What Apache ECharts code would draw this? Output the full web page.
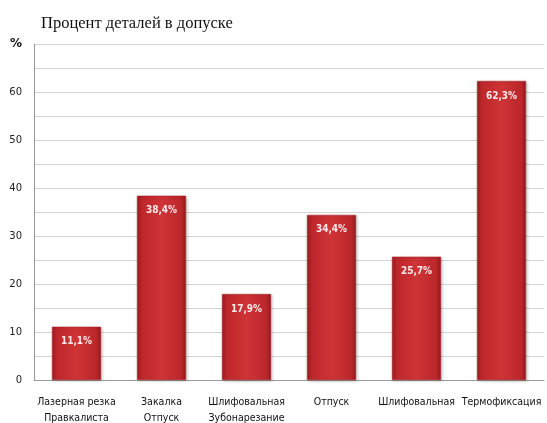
<!DOCTYPE html>
<html><head><meta charset="utf-8">
<script src="https://cdn.jsdelivr.net/npm/echarts@6/dist/echarts.min.js"></script>
<style>html,body{margin:0;padding:0;background:#fff}#c{width:547px;height:423px}</style>
</head><body><div id="c"></div>
<script>
const categories = ['Лазерная резка\nПравкалиста', 'Закалка\nОтпуск', 'Шлифовальная\nЗубонарезание', 'Отпуск', 'Шлифовальная', 'Термофиксация'];
const values = [11.1, 38.4, 17.9, 34.4, 25.7, 62.3];
const yTickLabels = ['0', '10', '20', '30', '40', '50', '60'];
const unitLabel = '%';
const chartTitle = 'Процент деталей в допуске';

const chart = echarts.init(document.getElementById('c'));
chart.setOption({
  animation: false,
  title: {
    text: chartTitle, left: 36, top: 10,
    textStyle: { fontFamily: 'Liberation Serif', fontSize: 16.5, fontWeight: 'normal', color: '#111' }
  },
  grid: { left: 34, right: 3, top: 44, bottom: 43, outerBoundsMode: 'none', containLabel: false },
  xAxis: {
    type: 'category', data: categories,
    axisLine: { lineStyle: { color: '#999' } },
    axisTick: { show: false },
    axisLabel: { interval: 0, fontFamily: 'DejaVu Sans Condensed', fontSize: 10.5, color: '#111', margin: 14, lineHeight: 16 }
  },
  yAxis: {
    type: 'value', min: 0, max: 70, interval: 5,
    axisLine: { show: true, lineStyle: { color: '#999' } },
    axisTick: { show: false },
    splitLine: { lineStyle: { color: '#d4d4d4' } },
    axisLabel: {
      fontFamily: 'DejaVu Sans', fontSize: 10, color: '#222', margin: 12,
      formatter: v => v === 70 ? '{u|' + unitLabel + '}' : (v % 10 === 0 ? yTickLabels[v / 10] : ''),
      rich: { u: { fontSize: 12, fontWeight: 'bold', color: '#111', fontFamily: 'DejaVu Sans' } }
    }
  },
  series: [{
    type: 'bar', data: values, barWidth: 49,
    itemStyle: {
      color: new echarts.graphic.LinearGradient(0, 0, 1, 0, [
        { offset: 0, color: '#9e1c21' }, { offset: 0.1, color: '#bd272b' },
        { offset: 0.5, color: '#cf3336' }, { offset: 0.9, color: '#bb272b' }, { offset: 1, color: '#941a1e' }
      ]),
      borderColor: '#ad2327', borderWidth: 0.5,
      shadowColor: 'rgba(0,0,0,0.25)', shadowBlur: 3, shadowOffsetX: 1, shadowOffsetY: 1
    },
    label: {
      show: true, position: 'insideTop', distance: 10,
      formatter: p => String(p.value).replace('.', ',') + '%',
      color: '#fbe8e8', fontFamily: 'DejaVu Sans Condensed', fontSize: 10, fontWeight: 'bold'
    }
  }]
});
</script></body></html>
